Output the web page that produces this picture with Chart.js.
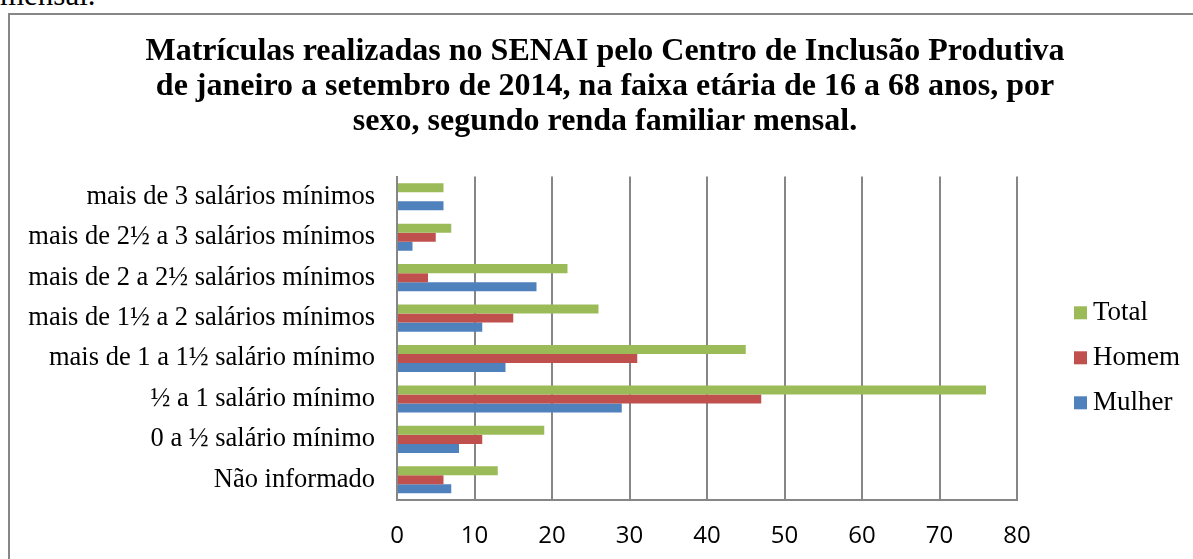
<!DOCTYPE html>
<html>
<head>
<meta charset="utf-8">
<script src="https://cdn.jsdelivr.net/npm/chart.js@4.4.1/dist/chart.umd.min.js"></script>
<style>
  body { margin: 0; background: #fff; overflow: hidden; }
  #wrap { position: relative; width: 1193px; height: 559px; overflow: hidden; }
  #frame { position: absolute; left: 8px; top: 13px; width: 1200px; height: 600px; border: 2px solid #878787; box-sizing: border-box; }
  #above { position: absolute; left: 0px; top: -21px; font: 31px/1 "Liberation Serif", serif; color: #000; }
  #myChart { position: absolute; left: 0; top: 0; }
</style>
</head>
<body>
<div id="wrap">
  <div id="above">mensal.</div>
  <div id="frame"></div>
  <canvas id="myChart" width="1210" height="559"></canvas>
</div>
<script>
// categories, top to bottom as in the picture
const categories = [
  'mais de 3 salários mínimos',
  'mais de 2½ a 3 salários mínimos',
  'mais de 2 a 2½ salários mínimos',
  'mais de 1½ a 2 salários mínimos',
  'mais de 1 a 1½ salário mínimo',
  '½ a 1 salário mínimo',
  '0 a ½ salário mínimo',
  'Não informado'
];
const total  = [6, 7, 22, 26, 45, 76, 19, 13];
const homem  = [0, 5, 4, 15, 31, 47, 11, 6];
const mulher = [6, 2, 18, 11, 14, 29, 8, 7];
const xTicks = [0, 10, 20, 30, 40, 50, 60, 70, 80];

const titleLines = [
  'Matrículas realizadas no SENAI pelo Centro de Inclusão Produtiva',
  'de janeiro a setembro de 2014, na faixa etária de 16 a 68 anos, por',
  'sexo, segundo renda familiar mensal.'
];

// legend drawn in the space kept free on the right: Total / Homem / Mulher
const sideLegend = {
  id: 'sideLegend',
  afterDraw(chart) {
    const ctx = chart.ctx;
    const area = chart.chartArea;
    const x = area.right + 57;
    const mid = (area.top + area.bottom) / 2 + 19;
    ctx.save();
    ctx.font = '27px "Liberation Serif", serif';
    ctx.textBaseline = 'middle';
    chart.data.datasets.forEach((ds, i) => {
      const y = mid + (i - 1) * 45;
      ctx.fillStyle = ds.backgroundColor;
      ctx.fillRect(x, y - 6, 13, 13);
      ctx.fillStyle = '#000';
      ctx.fillText(ds.label, x + 19, y + 1);
    });
    ctx.restore();
  }
};

data = {
  labels: categories,
  datasets: [
    { label: 'Total',  data: total,  backgroundColor: '#9bbb59' },
    { label: 'Homem',  data: homem,  backgroundColor: '#c0504d' },
    { label: 'Mulher', data: mulher, backgroundColor: '#4f81bd' }
  ]
};

config = {
  type: 'bar',
  data: data,
  plugins: [sideLegend],
  options: {
    indexAxis: 'y',
    responsive: false,
    animation: false,
    datasets: {
      bar: { categoryPercentage: 0.67, barPercentage: 1.0, borderWidth: 0 }
    },
    layout: { padding: 0 },
    plugins: {
      legend: { display: false },
      tooltip: { enabled: false },
      title: {
        display: true,
        text: titleLines,
        color: '#000',
        font: { family: '"Liberation Serif", serif', size: 32, weight: 'bold', lineHeight: 1.1 },
        padding: { top: 34, bottom: 37 }
      }
    },
    scales: {
      x: {
        min: 0,
        max: 80,
        afterBuildTicks: s => { s.ticks = xTicks.map(v => ({ value: v })); },
        afterFit: s => { s.height = 59; },
        grid: { color: '#868686', lineWidth: 2, drawTicks: false },
        border: { color: '#868686', width: 2 },
        ticks: {
          color: '#000',
          padding: 22,
          font: { family: '"Open Sans", sans-serif', size: 24 }
        }
      },
      y: {
        afterFit: s => { s.width = 397; },
        grid: { display: false, drawTicks: false },
        border: { color: '#868686', width: 2 },
        ticks: {
          color: '#000',
          padding: 22,
          font: { family: '"Liberation Serif", serif', size: 26.5 }
        }
      },
      // empty axis on the right that keeps room for the legend
      yLegend: {
        type: 'linear',
        axis: 'y',
        position: 'right',
        afterFit: s => { s.width = 1210 - 1017; },
        grid: { display: false },
        border: { display: false },
        ticks: { display: false }
      }
    }
  }
};

myChart = new Chart(document.getElementById('myChart'), config);
</script>
</body>
</html>
